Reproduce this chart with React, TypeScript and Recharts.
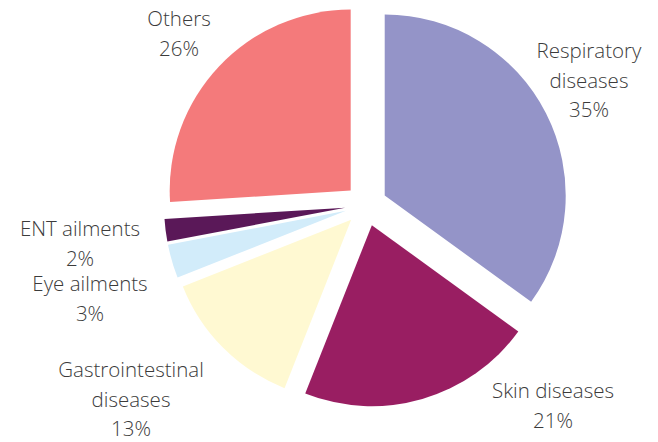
import React from 'react';
import { PieChart, Pie, Cell } from 'recharts';

// disease share of consultations (%), clockwise from 12 o'clock
const categories = ['Respiratory diseases', 'Skin diseases', 'Gastrointestinal diseases', 'Eye ailments', 'ENT ailments', 'Others'];
const shares = [35, 21, 13, 3, 2, 26];
const labelText = [
  ['Respiratory', 'diseases'],
  ['Skin diseases'],
  ['Gastrointestinal', 'diseases'],
  ['Eye ailments'],
  ['ENT ailments'],
  ['Others'],
];

const colors = ['#9494C8', '#991E62', '#FFF9D2', '#D2ECFA', '#5A1858', '#F47A7B'];

// label anchors: centre x, first baseline
const labelAnchors = [
  [589, 58],
  [553, 398],
  [131, 377],
  [90, 291],
  [80, 236],
  [179, 26],
];

const W = 658;
const H = 442;
const CX = 366;
const CY = 205;
const RADIUS = 181;
const EXPLODE = 21;
const LINE_H = 29.5;

const total = shares.reduce((s, v) => s + v, 0);

const slices = (() => {
  let acc = 0;
  return categories.map((name, i) => {
    const a0 = (acc / total) * 360;
    acc += shares[i];
    const a1 = (acc / total) * 360;
    const mid = ((a0 + a1) / 2) * Math.PI / 180;
    return {
      name,
      value: shares[i],
      color: colors[i],
      // recharts angles are counter-clockwise from 3 o'clock
      startAngle: 90 - a0,
      endAngle: 90 - a1,
      cx: CX + EXPLODE * Math.sin(mid),
      cy: CY - EXPLODE * Math.cos(mid),
      index: i,
    };
  });
})();

const renderLabel = (i: number) => () => {
  const [x, y] = labelAnchors[i];
  const lines = [...labelText[i], `${shares[i]}%`];
  return (
    <text
      textAnchor="middle"
      fill="#3b3b3b"
      fontSize={20.5}
      fontWeight={300}
      fontFamily="'Open Sans', 'Noto Sans', sans-serif"
    >
      {lines.map((t, k) => (
        <tspan key={k} x={x} y={y + k * LINE_H}>{t}</tspan>
      ))}
    </text>
  );
};

export default function App() {
  return (
    <div style={{ position: 'absolute', left: 0, top: 0, width: W, height: H, background: '#fff' }}>
      <PieChart width={W} height={H} margin={{ top: 0, right: 0, bottom: 0, left: 0 }}>
        {slices.map(s => (
          <Pie
            key={s.name}
            data={[s]}
            dataKey="value"
            nameKey="name"
            cx={s.cx}
            cy={s.cy}
            startAngle={s.startAngle}
            endAngle={s.endAngle}
            innerRadius={0}
            outerRadius={RADIUS}
            stroke="none"
            isAnimationActive={false}
            labelLine={false}
            label={renderLabel(s.index)}
          >
            <Cell fill={s.color} />
          </Pie>
        ))}
      </PieChart>
    </div>
  );
}
